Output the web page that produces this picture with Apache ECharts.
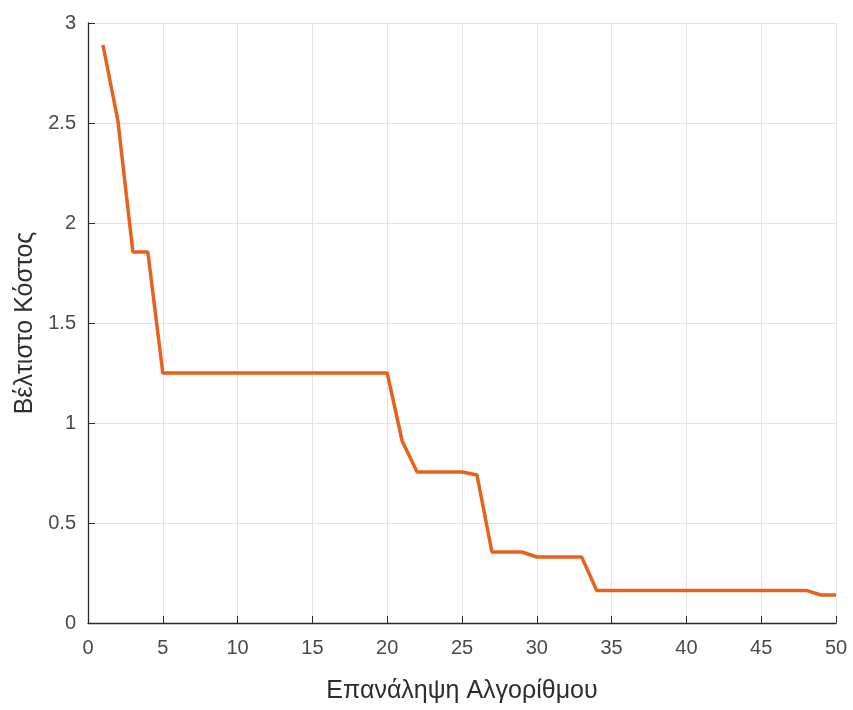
<!DOCTYPE html>
<html>
<head>
<meta charset="utf-8">
<script src="https://cdn.jsdelivr.net/npm/echarts@6/dist/echarts.min.js"></script>
<style>html,body{margin:0;padding:0;background:#fff;}#c{width:853px;height:710px;}</style>
</head>
<body>
<div id="c"></div>
<script>
var iterations = [1,2,3,4,5,6,7,8,9,10,11,12,13,14,15,16,17,18,19,20,21,22,23,24,25,26,27,28,29,30,31,32,33,34,35,36,37,38,39,40,41,42,43,44,45,46,47,48,49,50];
var bestCost = [2.89,2.51,1.855,1.855,1.25,1.25,1.25,1.25,1.25,1.25,1.25,1.25,1.25,1.25,1.25,1.25,1.25,1.25,1.25,1.25,0.91,0.755,0.755,0.755,0.755,0.74,0.355,0.355,0.355,0.33,0.33,0.33,0.33,0.163,0.163,0.163,0.163,0.163,0.163,0.163,0.163,0.163,0.163,0.163,0.163,0.163,0.163,0.163,0.14,0.14];
var xTitle = 'Επανάληψη Αλγορίθμου';
var yTitle = 'Βέλτιστο Κόστος';

var chart = echarts.init(document.getElementById('c'));
var pts = iterations.map(function(x,i){return [x,bestCost[i]];});
var txt = '#4a4a4a';
chart.setOption({
  backgroundColor:'#fff',
  animation:false,
  grid:{left:88,right:17,top:23,bottom:87,containLabel:false},
  xAxis:{type:'value',min:0,max:50,interval:5,
    name:xTitle,nameLocation:'middle',nameGap:56,
    nameTextStyle:{fontFamily:'Liberation Sans',fontSize:25,color:'#2e2e2e'},
    axisLine:{show:true,lineStyle:{color:'#2b2b2b',width:1.3}},
    axisTick:{show:true,inside:true,length:7,lineStyle:{color:'#2b2b2b'}},
    axisLabel:{fontFamily:'Liberation Sans',fontSize:20,color:txt,margin:15},
    splitLine:{show:true,lineStyle:{color:'#e3e3e3',width:1}}
  },
  yAxis:{type:'value',min:0,max:3,interval:0.5,
    name:yTitle,nameLocation:'middle',nameGap:48,
    nameTextStyle:{fontFamily:'Liberation Sans',fontSize:25,color:'#2e2e2e'},
    axisLine:{show:true,lineStyle:{color:'#2b2b2b',width:1.3}},
    axisTick:{show:true,inside:true,length:7,lineStyle:{color:'#2b2b2b'}},
    axisLabel:{fontFamily:'Liberation Sans',fontSize:20,color:txt,margin:12},
    splitLine:{show:true,lineStyle:{color:'#e3e3e3',width:1}}
  },
  series:[{type:'line',data:pts,showSymbol:false,
    lineStyle:{color:'#E8621E',width:3.5},itemStyle:{color:'#E8621E'}}]
});
</script>
</body>
</html>
